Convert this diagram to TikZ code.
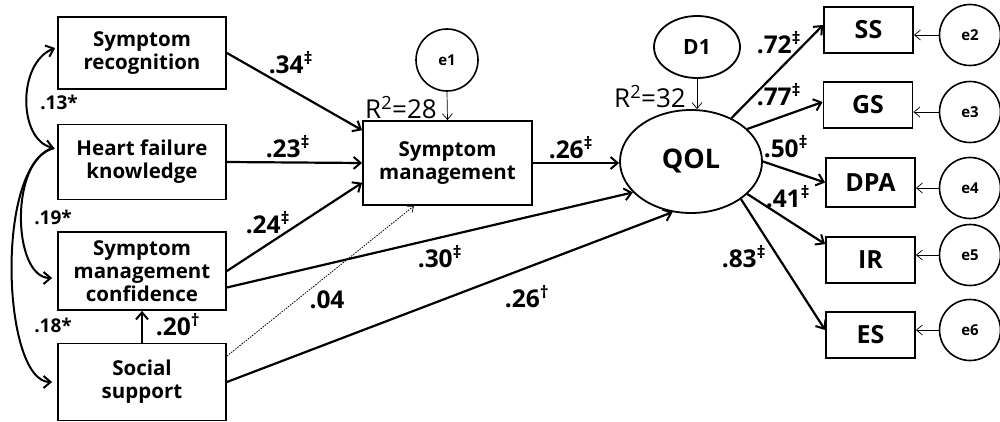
\documentclass[tikz,border=0pt]{standalone}
\usepackage{fontspec}
\setmainfont{Open Sans}
\usetikzlibrary{arrows.meta,shapes.geometric,calc}
\begin{document}
\begin{tikzpicture}[x=1pt,y=-1pt,
  box/.style={draw,line width=1.8pt,inner sep=0pt,align=center,font=\bfseries\fontsize{20.5}{23}\selectfont},
  ind/.style={draw,line width=1.8pt,inner sep=0pt,minimum width=89pt,minimum height=46pt,font=\bfseries\fontsize{25}{27}\selectfont},
  err/.style={draw,circle,line width=1.6pt,minimum size=61pt,inner sep=0pt,font=\bfseries\fontsize{15}{17}\selectfont},
  lat/.style={draw,ellipse,line width=1.8pt,inner sep=0pt},
  path/.style={line width=2.2pt,-{Straight Barb[length=7pt,width=12pt,line width=2pt]}},
  thin/.style={line width=0.7pt,-{Straight Barb[length=6pt,width=10pt,line width=0.7pt]}},
  cov/.style={line width=2pt,-{Straight Barb[length=7pt,width=12pt,line width=2pt]}},
  coef/.style={inner sep=0pt,font=\bfseries\fontsize{24.5}{26}\selectfont},
  scoef/.style={inner sep=0pt,font=\bfseries\fontsize{19}{21}\selectfont},
  rsq/.style={inner sep=0pt,font=\fontsize{26}{28}\selectfont}]
\useasboundingbox (0,0) rectangle (1000,422);
% exogenous boxes
\node[box,minimum width=168pt,minimum height=72pt] (SR) at (142,53) {Symptom\\recognition};
\node[box,minimum width=168pt,minimum height=75pt] (HFK) at (142,162) {Heart failure\\knowledge};
\node[box,minimum width=168pt,minimum height=78pt,font=\bfseries\fontsize{20.5}{23}\selectfont] (SMC) at (142,271) {Symptom\\management\\confidence};
\node[box,minimum width=168pt,minimum height=77pt] (SoS) at (142,382) {Social\\support};
% mediator
\node[box,minimum width=169pt,minimum height=84pt] (SM) at (447.5,163) {Symptom\\management};
\node[err,minimum size=62pt] (e1) at (447,60) {e1};
% latent
\node[lat,minimum width=142pt,minimum height=103pt,font=\bfseries\fontsize{27}{29}\selectfont] (QOL) at (691,161.5) {QOL};
\node[lat,minimum width=86pt,minimum height=62pt,font=\bfseries\fontsize{21}{23}\selectfont] (D1) at (697,47) {D1};
% indicators
\node[ind] (SS) at (868.5,30) {SS};
\node[ind] (GS) at (868,105) {GS};
\node[ind,minimum height=49pt] (DPA) at (870.5,182.5) {DPA};
\node[ind] (IR) at (870.5,260) {IR};
\node[ind] (ES) at (870.5,335) {ES};
\node[err] (e2) at (970,35) {e2};
\node[err] (e3) at (970,112) {e3};
\node[err] (e4) at (970,188) {e4};
\node[err] (e5) at (970,255) {e5};
\node[err] (e6) at (970,330) {e6};
% structural paths
\draw[path] (SR.east) -- (SM.159);
\draw[path] (HFK.east) -- (SM.west);
\draw[path] (SMC.east) -- (SM.193);
\draw[path] (SMC.-11) -- (QOL.208);
\draw[path] (SoS.east) -- (QOL.250);
\draw[line width=0.8pt,dash pattern=on 1.5pt off 1.2pt,-{Straight Barb[length=5pt,width=8pt,line width=0.7pt]}] (SoS.17) -- (SM.232);
\draw[path] (SoS.north) -- (SMC.south);
\draw[path] (SM.east) -- (SM.east -| QOL.west);
\draw[thin] (e1.south) -- (SM.north);
\draw[thin] (D1.south) -- (D1.south |- QOL.north);
% measurement paths
\draw[path] (QOL.47) -- ($(SS.west)+(0,-5)$);
\draw[path] (QOL.30) -- ($(GS.west)+(0,-3)$);
\draw[path] (QOL.0) -- (DPA.west);
\draw[path] (QOL.-30) -- ($(IR.north west)+(0,8)$);
\draw[path] (QOL.-37) -- ($(ES.west)+(0,-5)$);
\draw[thin] (e2.west) -- (e2.west -| SS.east);
\draw[thin] (e3.west) -- (e3.west -| GS.east);
\draw[thin] (e4.west) -- (e4.west -| DPA.east);
\draw[thin] (e5.west) -- (e5.west -| IR.east);
\draw[thin] (e6.west) -- (e6.west -| ES.east);
% covariances
\draw[cov,{Straight Barb[length=7pt,width=12pt,line width=2pt]}-{Straight Barb[length=7pt,width=12pt,line width=2pt]}] ($(HFK.west)+(-3,-14)$) .. controls +(-36,-8) and +(-38,15) .. ($(SR.west)+(-2,-5)$);
\draw[cov] ($(HFK.west)+(-3,-14)$) .. controls +(-45,10) and +(-40,0) .. ($(SMC.west)+(-5,7)$);
\draw[cov] ($(HFK.west)+(-3,-14)$) .. controls +(-60,15) and +(-50,0) .. ($(SoS.west)+(-5,0)$);
% coefficients
\node[coef] (c1) at (291,63) {.34\textsuperscript{‡}};
\node[coef] (c2) at (288,147) {.23\textsuperscript{‡}};
\node[coef] (c3) at (268,223) {.24\textsuperscript{‡}};
\node[coef] (c4) at (178,325) {.20\textsuperscript{†}};
\node[coef] (c5) at (327,300) {.04};
\node[coef] (c6) at (440,257) {.30\textsuperscript{‡}};
\node[coef] (c7) at (527,297) {.26\textsuperscript{†}};
\node[coef] (c8) at (571,148) {.26\textsuperscript{‡}};
\node[coef] (c9) at (779,43) {.72\textsuperscript{‡}};
\node[coef] (c10) at (779,95) {.77\textsuperscript{‡}};
\node[coef] (c11) at (786,147) {.50\textsuperscript{‡}};
\node[coef] (c12) at (788,197) {.41\textsuperscript{‡}};
\node[coef] (c13) at (744,257) {.83\textsuperscript{‡}};
\node[scoef] (k1) at (59,102) {.13*};
\node[scoef] (k2) at (53,217) {.19*};
\node[scoef] (k3) at (53,325) {.18*};
\node[rsq] (r1) at (401,108) {R\textsuperscript{2}=28};
\node[rsq] (r2) at (650,97) {R\textsuperscript{2}=32};
\end{tikzpicture}
\end{document}
